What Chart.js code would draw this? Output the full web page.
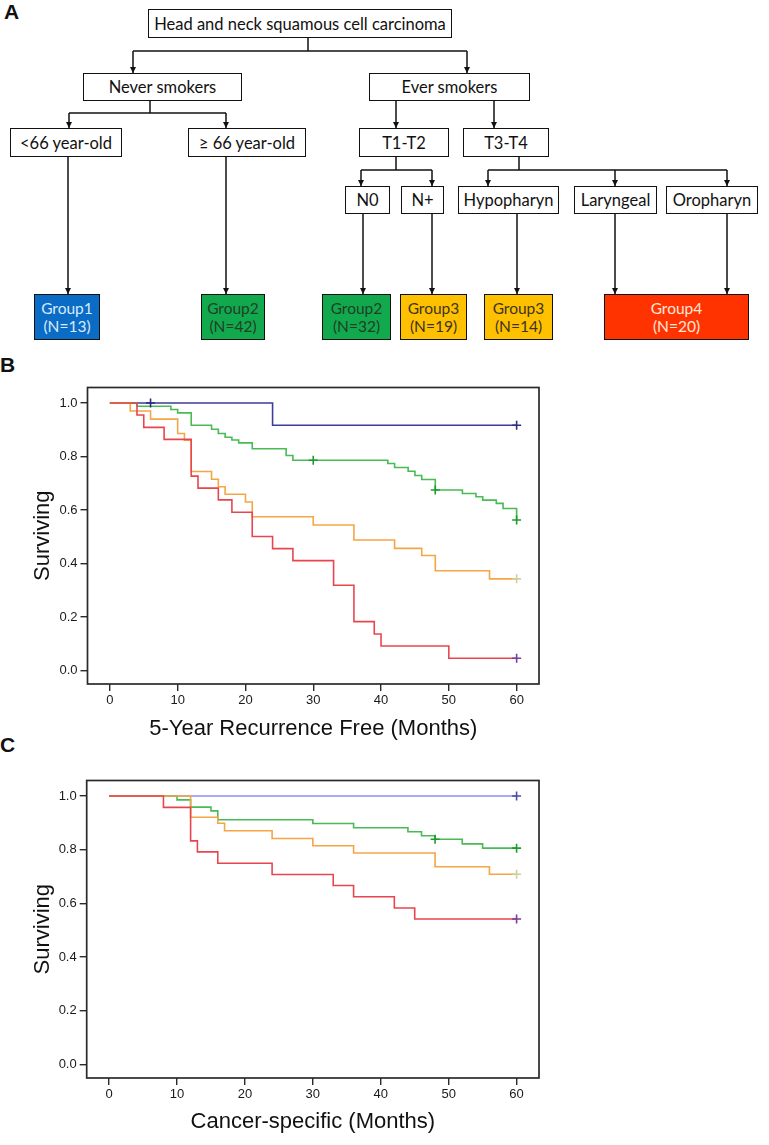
<!DOCTYPE html>
<html>
<head>
<meta charset="utf-8">
<script src="https://cdn.jsdelivr.net/npm/chart.js@4.4.0/dist/chart.umd.min.js"></script>
<style>
  body{margin:0;background:#fff;width:769px;height:1145px;position:relative;overflow:hidden;font-family:"Liberation Sans",Arial,sans-serif;}
  .lbl{position:absolute;font-weight:bold;font-size:21px;color:#111;}
  .box{position:absolute;box-sizing:border-box;border:1.6px solid #111;background:#fff;display:flex;align-items:center;justify-content:center;text-align:center;font-family:Lato,sans-serif;font-size:16.5px;color:#111;white-space:nowrap;line-height:18px;}
  .grp{font-size:15.5px;}
  #flow{position:absolute;left:0;top:0;}
  canvas{position:absolute;left:0;}
</style>
</head>
<body>
<div class="lbl" style="left:4px;top:0px;">A</div>
<div class="lbl" style="left:0px;top:353px;">B</div>
<div class="lbl" style="left:0px;top:733px;">C</div>

<svg id="flow" width="769" height="345">
  <defs>
    <marker id="ah" markerWidth="6" markerHeight="6" refX="6" refY="3" orient="auto" markerUnits="userSpaceOnUse">
      <path d="M0,0 L6,3 L0,6 z" fill="#111"/>
    </marker>
  </defs>
  <g stroke="#111" stroke-width="1.5" fill="none">
    <line x1="308" y1="37" x2="308" y2="51"/>
    <line x1="133" y1="51" x2="467" y2="51"/>
    <line x1="150" y1="101" x2="150" y2="113"/>
    <line x1="69" y1="113" x2="226" y2="113"/>
    <line x1="396" y1="157" x2="396" y2="170"/>
    <line x1="361" y1="170" x2="432" y2="170"/>
    <line x1="519" y1="157" x2="519" y2="170"/>
    <line x1="488" y1="170" x2="727" y2="170"/>
  </g>
  <g stroke="#111" stroke-width="1.5" fill="none" marker-end="url(#ah)">
    <line x1="133" y1="51" x2="133" y2="73"/>
    <line x1="467" y1="51" x2="467" y2="73"/>
    <line x1="69" y1="113" x2="69" y2="128"/>
    <line x1="226" y1="113" x2="226" y2="128"/>
    <line x1="396" y1="101" x2="396" y2="128"/>
    <line x1="494" y1="101" x2="494" y2="128"/>
    <line x1="361" y1="170" x2="361" y2="186"/>
    <line x1="432" y1="170" x2="432" y2="186"/>
    <line x1="488" y1="170" x2="488" y2="186"/>
    <line x1="615" y1="170" x2="615" y2="186"/>
    <line x1="727" y1="170" x2="727" y2="186"/>
    <line x1="68" y1="157" x2="68" y2="294"/>
    <line x1="226" y1="157" x2="226" y2="294"/>
    <line x1="363" y1="214" x2="363" y2="294"/>
    <line x1="432" y1="214" x2="432" y2="294"/>
    <line x1="517" y1="214" x2="517" y2="294"/>
    <line x1="615" y1="214" x2="615" y2="294"/>
    <line x1="727" y1="214" x2="727" y2="294"/>
  </g>
</svg>

<div class="box" style="left:148px;top:9px;width:304px;height:29px;">Head and neck squamous cell carcinoma</div>
<div class="box" style="left:83px;top:73px;width:159px;height:28px;">Never smokers</div>
<div class="box" style="left:369px;top:73px;width:161px;height:28px;">Ever smokers</div>
<div class="box" style="left:10px;top:128px;width:112px;height:29px;">&lt;66 year-old</div>
<div class="box" style="left:188px;top:128px;width:118px;height:29px;">≥ 66 year-old</div>
<div class="box" style="left:359px;top:128px;width:90px;height:29px;">T1-T2</div>
<div class="box" style="left:463px;top:128px;width:86px;height:29px;">T3-T4</div>
<div class="box" style="left:345px;top:186px;width:45px;height:28px;">N0</div>
<div class="box" style="left:401px;top:186px;width:43px;height:28px;">N+</div>
<div class="box" style="left:458px;top:186px;width:101px;height:28px;">Hypopharyn</div>
<div class="box" style="left:574px;top:186px;width:83px;height:28px;">Laryngeal</div>
<div class="box" style="left:666px;top:186px;width:92px;height:28px;">Oropharyn</div>

<div class="box grp" style="left:34px;top:294px;width:66px;height:46px;background:#0a6cc4;color:#d8eaff;">Group1<br>(N=13)</div>
<div class="box grp" style="left:201px;top:294px;width:64px;height:46px;background:#12a94e;color:#1f3f26;">Group2<br>(N=42)</div>
<div class="box grp" style="left:322px;top:294px;width:69px;height:46px;background:#12a94e;color:#1f3f26;">Group2<br>(N=32)</div>
<div class="box grp" style="left:400px;top:294px;width:67px;height:46px;background:#ffc000;color:#3d3420;">Group3<br>(N=19)</div>
<div class="box grp" style="left:484px;top:294px;width:69px;height:46px;background:#ffc000;color:#3d3420;">Group3<br>(N=14)</div>
<div class="box grp" style="left:604px;top:294px;width:145px;height:46px;background:#ff3300;color:#ffe6dc;">Group4<br>(N=20)</div>

<canvas id="chartB" width="560" height="372" style="top:372px;"></canvas>
<canvas id="chartC" width="560" height="372" style="top:766px;"></canvas>

<script>
// tick labels
let xTicks = [0, 10, 20, 30, 40, 50, 60];
let yTicks = [0, 0.2, 0.4, 0.6, 0.8, 1.0];

// B: 5-year recurrence free, step times (months) and survival
let rfsG1Time = [0, 24, 60];
let rfsG1Surv = [1, 0.917, 0.917];
let rfsG2Time = [0, 4, 9, 10, 12, 15, 16, 17, 18, 19, 21, 26, 27, 41, 42, 44, 45, 46, 48, 52, 54, 55, 57, 58, 60];
let rfsG2Surv = [1, 0.988, 0.976, 0.963, 0.917, 0.902, 0.886, 0.872, 0.862, 0.851, 0.829, 0.804, 0.786, 0.774, 0.759, 0.745, 0.729, 0.714, 0.675, 0.662, 0.650, 0.637, 0.625, 0.606, 0.563];
let rfsG3Time = [0, 3, 6, 10, 11, 12, 15, 16, 17, 20, 21, 30, 36, 42, 46, 48, 56, 60];
let rfsG3Surv = [1, 0.970, 0.940, 0.886, 0.861, 0.744, 0.715, 0.687, 0.659, 0.630, 0.575, 0.544, 0.488, 0.457, 0.430, 0.373, 0.343, 0.343];
let rfsG4Time = [0, 4, 5, 8, 12, 13, 16, 18, 21, 24, 27, 33, 36, 39, 40, 50, 60];
let rfsG4Surv = [1, 0.955, 0.909, 0.864, 0.727, 0.682, 0.638, 0.592, 0.501, 0.456, 0.411, 0.319, 0.183, 0.137, 0.092, 0.046, 0.046];

// censored marks
let rfsG1CensT = [6, 60];
let rfsG1CensS = [1, 0.917];
let rfsG2CensT = [30, 48, 60];
let rfsG2CensS = [0.786, 0.675, 0.563];
let rfsG3CensT = [60];
let rfsG3CensS = [0.343];
let rfsG4CensT = [60];
let rfsG4CensS = [0.046];

// C: cancer-specific
let cssG1Time = [0, 60];
let cssG1Surv = [1, 1];
let cssG2Time = [0, 10, 12, 15, 16, 30, 36, 44, 46, 48, 52, 55, 60];
let cssG2Surv = [1, 0.986, 0.959, 0.945, 0.912, 0.898, 0.882, 0.867, 0.852, 0.839, 0.822, 0.806, 0.806];
let cssG3Time = [0, 12, 16, 17, 24, 30, 36, 48, 56, 60];
let cssG3Surv = [1, 0.921, 0.899, 0.871, 0.842, 0.815, 0.788, 0.737, 0.709, 0.709];
let cssG4Time = [0, 8, 12, 13, 16, 24, 33, 36, 42, 45, 60];
let cssG4Surv = [1, 0.958, 0.833, 0.792, 0.750, 0.708, 0.667, 0.625, 0.583, 0.542, 0.542];

let cssG1CensT = [60];
let cssG1CensS = [1];
let cssG2CensT = [48, 60];
let cssG2CensS = [0.839, 0.806];
let cssG3CensT = [60];
let cssG3CensS = [0.709];
let cssG4CensT = [60];
let cssG4CensS = [0.542];

function pts(t, s){
  let arr = [];
  for(let i = 0; i < t.length; i++){
    arr.push({x: t[i], y: s[i]});
  }
  return arr;
}

function curve(t, s, color, ord){
  return {
    data: pts(t, s),
    showLine: true,
    stepped: true,
    borderColor: color,
    borderWidth: 1.6,
    pointRadius: 0,
    fill: false,
    order: ord
  };
}

function cens(t, s, color){
  return {
    data: pts(t, s),
    showLine: false,
    pointStyle: "cross",
    pointRadius: 4.5,
    borderColor: color,
    borderWidth: 1.6,
    order: 0
  };
}

let frame = {
  id: "frame",
  afterDatasetsDraw: function(chart){
    let a = chart.chartArea;
    let ctx = chart.ctx;
    ctx.save();
    ctx.strokeStyle = "#2a2a2a";
    ctx.lineWidth = 1.7;
    ctx.strokeRect(a.left, a.top, a.right - a.left, a.bottom - a.top);
    ctx.restore();
  }
};

function makeChart(canvas, datasets, xTitle, yWidth, padTop, titlePad){
  return new Chart(canvas, {
    type: "scatter",
    data: {datasets: datasets},
    plugins: [frame],
    options: {
      responsive: false,
      animation: false,
      devicePixelRatio: 1,
      layout: {padding: {top: padTop, right: 21, left: 0, bottom: 0}},
      plugins: {legend: {display: false}, tooltip: {enabled: false}},
      scales: {
        x: {
          type: "linear",
          min: -3.3,
          max: 63.3,
          afterBuildTicks: function(s){ s.ticks = xTicks.map(function(v){ return {value: v}; }); },
          afterFit: function(s){ s.height = 60; },
          ticks: {
            autoSkip: false, maxRotation: 0, padding: 2, color: "#1a1a1a",
            font: {family: "Liberation Sans, Arial", size: 13},
            callback: function(v){ return String(v); }
          },
          grid: {drawOnChartArea: false, drawTicks: true, tickLength: 7, color: "#2a2a2a", lineWidth: 1.4},
          border: {display: false},
          title: {display: true, text: xTitle, color: "#111", padding: {top: 0, bottom: titlePad},
                  font: {family: "Liberation Sans, Arial", size: 22}}
        },
        y: {
          type: "linear",
          min: -0.05,
          max: 1.058,
          afterBuildTicks: function(s){ s.ticks = yTicks.map(function(v){ return {value: v}; }); },
          afterFit: function(s){ s.width = yWidth; },
          ticks: {
            autoSkip: false, padding: 3, color: "#1a1a1a",
            font: {family: "Liberation Sans, Arial", size: 13},
            callback: function(v){ return v.toFixed(1); }
          },
          grid: {drawOnChartArea: false, drawTicks: true, tickLength: 7, color: "#2a2a2a", lineWidth: 1.4},
          border: {display: false},
          title: {display: true, text: "Surviving", color: "#111", padding: {top: 30, bottom: 0},
                  font: {family: "Liberation Sans, Arial", size: 22}}
        }
      }
    }
  });
}

makeChart(document.getElementById("chartB"), [
  curve(rfsG1Time, rfsG1Surv, "#3d3d9c", 4),
  curve(rfsG2Time, rfsG2Surv, "#48bb55", 3),
  curve(rfsG3Time, rfsG3Surv, "#f5a545", 2),
  curve(rfsG4Time, rfsG4Surv, "#e8464f", 1),
  cens(rfsG1CensT, rfsG1CensS, "#2c2c80"),
  cens(rfsG2CensT, rfsG2CensS, "#1e9a2e"),
  cens(rfsG3CensT, rfsG3CensS, "#cfd09a"),
  cens(rfsG4CensT, rfsG4CensS, "#7a3c98")
], "5-Year Recurrence Free (Months)", 87.5, 15.5, 1.8);

makeChart(document.getElementById("chartC"), [
  curve(cssG1Time, cssG1Surv, "#8f8ff2", 4),
  curve(cssG2Time, cssG2Surv, "#48bb55", 3),
  curve(cssG3Time, cssG3Surv, "#f5a545", 2),
  curve(cssG4Time, cssG4Surv, "#e8464f", 1),
  cens(cssG1CensT, cssG1CensS, "#4a4ab0"),
  cens(cssG2CensT, cssG2CensS, "#1e9a2e"),
  cens(cssG3CensT, cssG3CensS, "#cfd09a"),
  cens(cssG4CensT, cssG4CensS, "#7a3c98")
], "Cancer-specific (Months)", 86.7, 14.5, 3.1);
</script>
</body>
</html>
